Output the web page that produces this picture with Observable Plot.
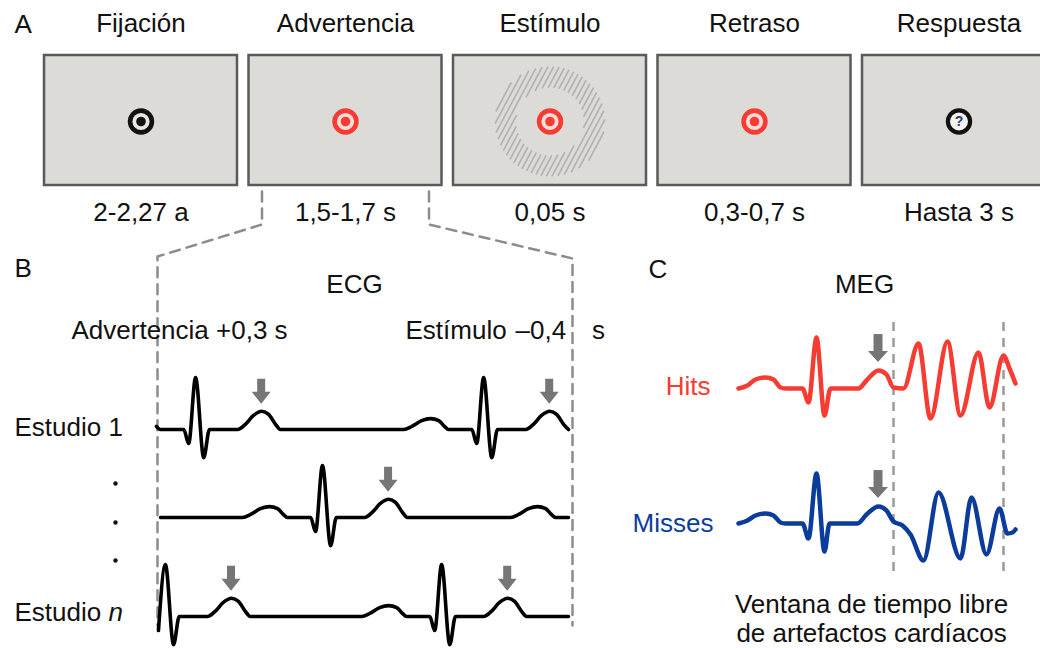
<!DOCTYPE html>
<html>
<head>
<meta charset="utf-8">
<script src="https://cdn.jsdelivr.net/npm/d3@7"></script>
<script src="https://cdn.jsdelivr.net/npm/@observablehq/plot@0.6"></script>
<style>
  html, body { margin: 0; padding: 0; background: #ffffff; }
  #chart svg { display: block; }
</style>
</head>
<body>
<div id="chart"></div>
<script>
// ================= DATA =================
const panelLetters = ["A", "B", "C"];

// Panel A: trial phases
const phases = ["Fijación", "Advertencia", "Estímulo", "Retraso", "Respuesta"];
const phaseDurations = ["2-2,27 a", "1,5-1,7 s", "0,05 s", "0,3-0,7 s", "Hasta 3 s"];
const phaseCue = ["fixation", "warning", "stimulus", "warning", "response"];

// Panel B: ECG
const ecgTitle = "ECG";
const ecgWindowStart = "Advertencia +0,3 s";
const ecgWindowEndEvent = "Estímulo";
const ecgWindowEndOffset = "–0,4\u2003s";
const ecgTrialNames = ["Estudio 1", "", "Estudio "];
const ecgTrialIndexItalic = "n";
// R-peak times (ms from window start) for each trial
const ecgRPeaks = [[86, 792], [397, 1054], [12, 689]];
// one heartbeat: time from R peak (ms) and amplitude (mV)
const beatT = [-196, -176, -152, -130, -110, -96, -86, -29, -17, 0, 20, 34, 103, 122, 142, 162, 179, 196, 208];
const beatV = [0, 0.06, 0.17, 0.21, 0.17, 0.06, 0, 0, -0.27, 1.0, -0.54, 0, 0, 0.1, 0.27, 0.35, 0.29, 0.1, 0];
const tWavePeakTime = 162; // ms after R peak (marked by arrows)

// Panel C: MEG
const megTitle = "MEG";
const megConditions = ["Hits", "Misses"];
const megHitsT = [0, 22.5, 42.5, 67.5, 87.5, 105, 117.5, 160, 175, 195, 215, 230, 300, 320, 350, 370, 387.5, 412.5, 450, 480, 522.5, 555, 600, 627.5, 662.5, 677.5, 692.5];
const megHitsV = [0, 0.3, 0.9, 1.1, 0.9, 0.1, 0, 0, -1.4, 5.1, -2.7, 0, 0, 0.8, 1.8, 1.4, 0.1, 0, 4.5, -3.0, 4.7, -2.7, 3.6, -1.9, 3.3, 2.0, 0.5];
const megMissesT = [0, 22.5, 42.5, 67.5, 87.5, 105, 117.5, 160, 175, 195, 215, 227.5, 297.5, 320, 350, 370, 387.5, 410, 430, 462.5, 500, 555, 582.5, 620, 652.5, 672.5, 685, 692.5];
const megMissesV = [0, 0.3, 0.8, 1.0, 0.8, 0.1, 0, 0, -1.5, 5.0, -2.8, 0, 0, 0.9, 1.7, 1.3, 0.2, -0.2, -1.1, -3.7, 3.1, -3.5, 2.6, -3.1, 1.5, -1.0, -0.9, -0.6];
const megTPeakTime = 350;
const artifactFreeWindow = [387.5, 662.5]; // ms
const megCaption = ["Ventana de tiempo libre", "de artefactos cardíacos"];

// ================= LAYOUT / STYLE =================
const W = 1040, H = 648;
const font = "'Liberation Sans', Arial, Helvetica, sans-serif";
const FS = 26;
const ink = "#111111";
const red = "#f63b32";
const blue = "#0b3c9c";
const arrowGray = "#767676";
const dashGray = "#8c8c8c";

const box = {left: 44, step: 204.5, width: 193, top: 55, bottom: 185};
const boxCenter = i => box.left + i * box.step + box.width / 2;
const targetY = 121;

const ecgX = t => 160 + t * 0.408;
const ecgWindow = [0, 1000];
const ecgBase = [429, 517, 616];
const ecgGain = 52;

const megX = t => 738 + t / 2.5;
const megBase = [388, 523];
const megGain = 10;

const cueColor = {fixation: ink, warning: red, stimulus: red, response: ink};
const cueInner = {fixation: "#e8e7e3", warning: "#fcdcd8", stimulus: "#fcdcd8", response: "#f3f3f1"};

// ---- derived tables ----
const boxes = phases.map((p, i) => ({
  x1: box.left + i * box.step, x2: box.left + i * box.step + box.width, y1: box.top, y2: box.bottom
}));
const targets = phaseCue.map((c, i) => ({cue: c, x: boxCenter(i), y: targetY}));
const ringTargets = targets.filter(d => d.cue !== "response");
const respTargets = targets.filter(d => d.cue === "response");

// stimulus annulus (grating)
const stripes = [];
{
  const cx = boxCenter(phaseCue.indexOf("stimulus")), cy = targetY;
  const rIn = 34, rOut = 55, sp = 5.0, ang = -62 * Math.PI / 180;
  const d = [Math.cos(ang), Math.sin(ang)];
  const n = [-d[1], d[0]];
  for (let s = -rOut + sp / 2; s < rOut; s += sp) {
    const to = Math.sqrt(rOut * rOut - s * s);
    const segs = Math.abs(s) < rIn
      ? [[-to, -Math.sqrt(rIn * rIn - s * s)], [Math.sqrt(rIn * rIn - s * s), to]]
      : [[-to, to]];
    segs.forEach(([a, b]) => stripes.push({
      x1: cx + n[0] * s + d[0] * a, y1: cy + n[1] * s + d[1] * a,
      x2: cx + n[0] * s + d[0] * b, y2: cy + n[1] * s + d[1] * b
    }));
  }
}

// ECG traces
const ecgPoints = [];
const arrows = [];
function arrowPoly(id, cx, tipY, len, head, shaftHalf, headHalf) {
  return [
    {id, y: tipY - len, x1: cx - shaftHalf, x2: cx + shaftHalf},
    {id, y: tipY - head, x1: cx - shaftHalf, x2: cx + shaftHalf},
    {id, y: tipY - head, x1: cx - headHalf, x2: cx + headHalf},
    {id, y: tipY, x1: cx, x2: cx}
  ];
}
const tPeakV = beatV[beatT.indexOf(tWavePeakTime)];
ecgRPeaks.forEach((peaks, k) => {
  let pts = [];
  peaks.forEach(r => beatT.forEach((dt, j) => pts.push([r + dt, beatV[j]])));
  pts = pts.filter(([t]) => t >= ecgWindow[0] - 10 && t <= ecgWindow[1]).sort((a, b) => a[0] - b[0]);
  if (pts[0][0] > ecgWindow[0]) pts.unshift([ecgWindow[0], 0]);
  if (pts[pts.length - 1][0] < ecgWindow[1]) pts.push([ecgWindow[1], 0]);
  pts.forEach(([t, v]) => ecgPoints.push({trial: k, x: ecgX(t), y: ecgBase[k] - v * ecgGain}));
  peaks.forEach((r, j) => {
    const t = r + tWavePeakTime;
    if (t >= ecgWindow[0] && t <= ecgWindow[1]) {
      arrowPoly(`ecg${k}-${j}`, ecgX(t), ecgBase[k] - tPeakV * ecgGain - 7, 25, 12, 4, 9.5)
        .forEach(p => arrows.push(p));
    }
  });
});

// MEG traces
const megSeries = [
  {cond: "Hits", T: megHitsT, V: megHitsV, base: megBase[0], color: red},
  {cond: "Misses", T: megMissesT, V: megMissesV, base: megBase[1], color: blue}
];
const megPoints = [];
megSeries.forEach(s => {
  s.T.forEach((t, i) => megPoints.push({cond: s.cond, x: megX(t), y: s.base - s.V[i] * megGain}));
  const vPeak = s.V[s.T.indexOf(megTPeakTime)];
  arrowPoly(`meg-${s.cond}`, megX(megTPeakTime), s.base - vPeak * megGain - 8, 28, 11, 4.5, 10)
    .forEach(p => arrows.push(p));
});

// dashed guides
const b2 = boxes[1];
const connector = [
  {id: "L", x: b2.x1 + 13, y: box.bottom + 6}, {id: "L", x: b2.x1 + 13, y: 224},
  {id: "L", x: ecgX(ecgWindow[0]) - 3, y: 256}, {id: "L", x: ecgX(ecgWindow[0]) - 3, y: 625},
  {id: "R", x: b2.x2 - 13, y: box.bottom + 6}, {id: "R", x: b2.x2 - 13, y: 224},
  {id: "R", x: ecgX(ecgWindow[1]) + 4, y: 258}, {id: "R", x: ecgX(ecgWindow[1]) + 4, y: 625}
];
const megGuides = artifactFreeWindow.map(t => ({x: megX(t), y1: 322, y2: 574}));

const txt = (data, opts) => Plot.text(data, {
  fontSize: FS, fontFamily: font, fill: ink, lineAnchor: "bottom", text: d => d, ...opts
});

const chart = Plot.plot({
  width: W, height: H, margin: 0,
  x: {domain: [0, W], range: [0, W], axis: null},
  y: {domain: [0, H], range: [0, H], axis: null},
  style: {background: "#ffffff", fontFamily: font, overflow: "hidden"},
  marks: [
    // Panel A boxes
    Plot.rect(boxes, {x1: "x1", x2: "x2", y1: "y1", y2: "y2", fill: "#dcdbd7", stroke: "#5a5a5a", strokeWidth: 2.5}),
    Plot.link(stripes, {x1: "x1", y1: "y1", x2: "x2", y2: "y2", stroke: "#b3b2ae", strokeWidth: 1.7}),
    // fixation / cue targets
    Plot.dot(targets, {x: "x", y: "y", r: 13.2, fill: d => cueColor[d.cue]}),
    Plot.dot(ringTargets, {x: "x", y: "y", r: 8.6, fill: d => cueInner[d.cue]}),
    Plot.dot(ringTargets, {x: "x", y: "y", r: 4.8, fill: d => cueColor[d.cue]}),
    Plot.dot(respTargets, {x: "x", y: "y", r: 9, fill: d => cueInner[d.cue]}),
    Plot.text(respTargets, {x: "x", y: "y", text: () => "?", fontSize: 14, fontWeight: "bold", fill: "#2b3b6e", fontFamily: font}),
    txt(phases, {x: (d, i) => boxCenter(i), y: 31}),
    txt(phaseDurations, {x: (d, i) => boxCenter(i), y: 220}),
    txt(panelLetters.slice(0, 1), {x: 14, y: 32, textAnchor: "start"}),

    // dashed connector / ECG window
    Plot.line(connector, {x: "x", y: "y", z: "id", stroke: dashGray, strokeWidth: 2.5, strokeDasharray: "10,7"}),

    // Panel B
    txt(panelLetters.slice(1, 2), {x: 14, y: 276, textAnchor: "start"}),
    txt([ecgTitle], {x: 354, y: 292}),
    txt([ecgWindowStart], {x: 71, y: 338, textAnchor: "start"}),
    txt([ecgWindowEndEvent], {x: 405, y: 338, textAnchor: "start"}),
    txt([ecgWindowEndOffset], {x: 515, y: 338, textAnchor: "start"}),
    txt([ecgTrialNames[0]], {x: 14, y: 435, textAnchor: "start"}),
    txt([ecgTrialNames[2]], {x: 14, y: 620, textAnchor: "start"}),
    txt([ecgTrialIndexItalic], {x: 108, y: 620, textAnchor: "start", fontStyle: "italic"}),
    Plot.dot([483, 522, 560], {x: 115, y: d => d, r: 2.2, fill: ink}),
    Plot.line(ecgPoints, {x: "x", y: "y", z: "trial", stroke: "#000", strokeWidth: 3.6, curve: "monotone-x", strokeLinejoin: "round"}),

    // Panel C
    txt(panelLetters.slice(2, 3), {x: 648, y: 277, textAnchor: "start"}),
    txt([megTitle], {x: 864, y: 292}),
    Plot.ruleX(megGuides, {x: "x", y1: "y1", y2: "y2", stroke: "#9a9a9a", strokeWidth: 2.5, strokeDasharray: "9,7"}),
    Plot.line(megPoints, {x: "x", y: "y", z: "cond", stroke: d => d.cond === "Hits" ? red : blue, strokeWidth: 4.5, curve: "monotone-x"}),
    txt([megConditions[0]], {x: 710, y: 394, textAnchor: "end", fill: red}),
    txt([megConditions[1]], {x: 713, y: 531, textAnchor: "end", fill: blue}),
    txt([megCaption[0]], {x: 871, y: 612}),
    txt([megCaption[1]], {x: 871, y: 641}),

    // arrows (T-wave markers)
    Plot.areaX(arrows, {y: "y", x1: "x1", x2: "x2", z: "id", fill: arrowGray, curve: "linear"})
  ]
});
document.getElementById("chart").appendChild(chart);
</script>
</body>
</html>
